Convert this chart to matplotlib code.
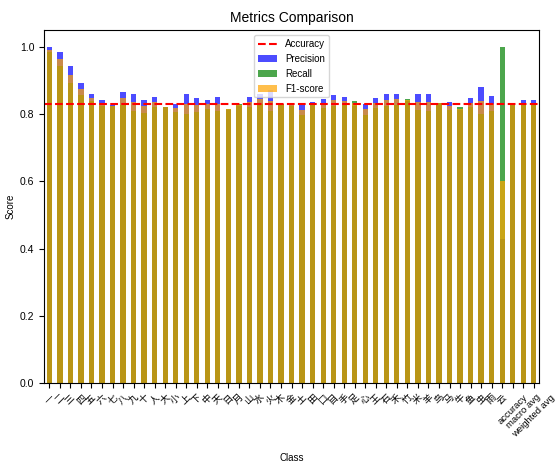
import numpy as np
import matplotlib
matplotlib.use("Agg")
from matplotlib import pyplot as plt

plt.rcParams['font.family'] = ['Liberation Sans', 'Noto Sans CJK SC']

# class names (single CJK chars)
classes = ['一', '二', '三', '四', '五', '六', '七', '八', '九', '十', '人',
           '大', '小', '上', '下', '中', '天', '日', '月', '山', '水', '火',
           '木', '金', '土', '田', '口', '目', '手', '足', '心', '王', '石',
           '禾', '竹', '米', '羊', '鸟', '马', '牛', '鱼', '虫', '雨', '云']
summary = ['accuracy', 'macro avg', 'weighted avg']

precision = [1.000, 0.985, 0.944, 0.893, 0.860, 0.843, 0.829, 0.867, 0.861, 0.843,
             0.851, 0.823, 0.832, 0.860, 0.847, 0.843, 0.851, 0.813, 0.826, 0.851,
             0.861, 0.872, 0.830, 0.832, 0.830, 0.835, 0.844, 0.858, 0.850, 0.826,
             0.832, 0.848, 0.859, 0.861, 0.840, 0.861, 0.861, 0.833, 0.837, 0.812,
             0.847, 0.880, 0.853, 0.430,
             0.831, 0.843, 0.843]
recall = [0.985, 0.944, 0.894, 0.857, 0.838, 0.825, 0.824, 0.829, 0.810, 0.805,
          0.823, 0.823, 0.808, 0.802, 0.808, 0.817, 0.810, 0.817, 0.830, 0.823,
          0.830, 0.810, 0.830, 0.826, 0.797, 0.830, 0.818, 0.826, 0.830, 0.840,
          0.798, 0.818, 0.826, 0.828, 0.845, 0.814, 0.810, 0.833, 0.813, 0.822,
          0.822, 0.800, 0.810, 1.000,
          0.831, 0.830, 0.831]
f1 = [0.992, 0.964, 0.918, 0.875, 0.849, 0.834, 0.826, 0.847, 0.835, 0.824,
      0.837, 0.823, 0.820, 0.830, 0.827, 0.830, 0.830, 0.815, 0.828, 0.837,
      0.845, 0.840, 0.830, 0.829, 0.813, 0.832, 0.831, 0.842, 0.840, 0.833,
      0.815, 0.833, 0.842, 0.844, 0.842, 0.837, 0.835, 0.833, 0.825, 0.817,
      0.834, 0.838, 0.831, 0.601,
      0.831, 0.833, 0.833]
accuracy = 0.831

labels = classes + summary
x = np.arange(len(labels))

fig, ax = plt.subplots(figsize=(5.58, 4.65), dpi=100)
fig.subplots_adjust(left=0.079, right=0.966, top=0.935, bottom=0.176)

ax.axhline(y=accuracy, color='r', linestyle='--', label='Accuracy')
ax.bar(x, precision, width=0.5, color='blue', alpha=0.7, label='Precision')
ax.bar(x, recall, width=0.5, color='green', alpha=0.7, label='Recall')
ax.bar(x, f1, width=0.5, color='orange', alpha=0.7, label='F1-score')

ax.set_xlim(-0.5, len(labels) - 0.5)
ax.set_xticks(x)
ax.set_xticklabels(labels, rotation=45, fontsize=6.8)
ax.tick_params(axis='y', labelsize=7.5)
ax.set_title('Metrics Comparison', fontsize=10)
ax.set_xlabel('Class', fontsize=7, labelpad=10)
ax.set_ylabel('Score', fontsize=7, labelpad=3)
ax.legend(loc='upper center', fontsize=7)

fig.savefig('out.png', dpi=100)
